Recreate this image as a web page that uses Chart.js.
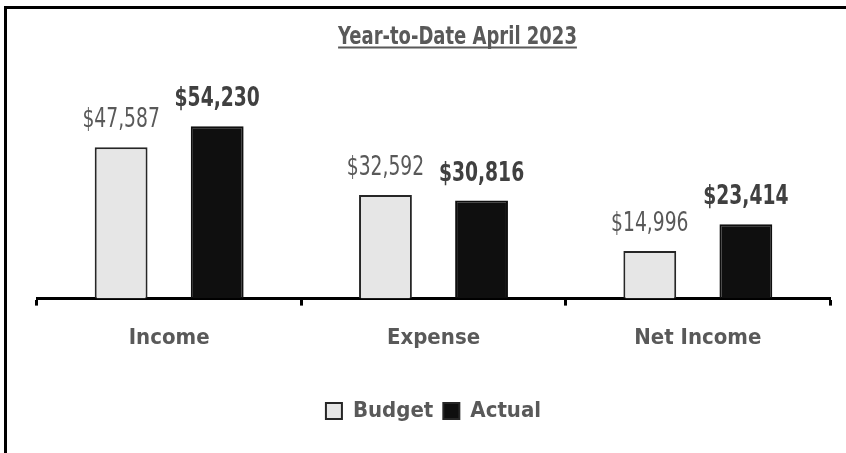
<!DOCTYPE html>
<html>
<head>
<meta charset="utf-8">
<script src="https://cdn.jsdelivr.net/npm/chart.js@4"></script>
<style>
  html, body { margin: 0; padding: 0; background: #fff; }
  #wrap { position: relative; width: 846px; height: 453px; }
</style>
</head>
<body>
<div id="wrap"><canvas id="ytdChart" width="846" height="453"></canvas></div>
<script>
// Chart data
const categories = ['Income', 'Expense', 'Net Income'];
const budgetValues = [47587, 32592, 14996];
const actualValues = [54230, 30816, 23414];
const chartTitle = 'Year-to-Date April 2023';

const FONT = '"Liberation Sans Narrow", "DejaVu Sans Condensed", "Liberation Sans", sans-serif';
const TEXT_GREY = '#595959';
const SQUEEZE = 0.8; // reference text is narrower than the fonts we have

function money(v) {
    return '$' + v.toLocaleString('en-US');
}

// draw text squeezed horizontally to look like the narrow reference font
function narrowText(ctx, text, x, y) {
    const w = ctx.measureText(text).width;
    ctx.fillText(text, x, y, w * SQUEEZE);
    return w * SQUEEZE;
}

// white background + left/top frame lines
const framePlugin = {
    id: 'frame',
    beforeDraw(chart) {
        const ctx = chart.ctx;
        ctx.save();
        ctx.fillStyle = '#fff';
        ctx.fillRect(0, 0, chart.width, chart.height);
        ctx.fillStyle = '#000';
        ctx.fillRect(4, 6, 3, chart.height - 6);
        ctx.fillRect(4, 6, chart.width - 4, 3);
        ctx.restore();
    }
};

// underlined title
const titlePlugin = {
    id: 'underlinedTitle',
    afterDraw(chart) {
        const ctx = chart.ctx;
        ctx.save();
        ctx.font = 'bold 25px ' + FONT;
        ctx.fillStyle = TEXT_GREY;
        ctx.textAlign = 'center';
        ctx.textBaseline = 'alphabetic';
        const cx = 457.5;
        const w = narrowText(ctx, chartTitle, cx, 44);
        ctx.fillRect(cx - w / 2, 46.5, w, 2);
        ctx.restore();
    }
};

// value labels above the bars
const valueLabels = {
    id: 'valueLabels',
    afterDatasetsDraw(chart) {
        const ctx = chart.ctx;
        ctx.save();
        ctx.textAlign = 'center';
        ctx.textBaseline = 'alphabetic';
        chart.data.datasets.forEach((ds, i) => {
            const meta = chart.getDatasetMeta(i);
            ctx.font = (i === 1 ? 'bold ' : '') + '26px ' + FONT;
            ctx.fillStyle = i === 1 ? '#404040' : TEXT_GREY;
            meta.data.forEach((bar, j) => {
                narrowText(ctx, money(ds.data[j]), bar.x, bar.y - 20);
            });
        });
        ctx.restore();
    }
};

const ctx = document.getElementById('ytdChart').getContext('2d');
new Chart(ctx, {
    type: 'bar',
    data: {
        labels: categories,
        datasets: [
            {
                label: 'Budget',
                data: budgetValues,
                backgroundColor: '#e6e6e6',
                borderColor: '#262626',
                borderWidth: 2,
                categoryPercentage: 0.727,
                barPercentage: 0.55
            },
            {
                label: 'Actual',
                data: actualValues,
                backgroundColor: '#0f0f0f',
                borderColor: '#0f0f0f',
                borderWidth: 2,
                categoryPercentage: 0.727,
                barPercentage: 0.55
            }
        ]
    },
    options: {
        responsive: false,
        animation: false,
        layout: {
            padding: { left: 37, right: 16, top: 76, bottom: 21 }
        },
        plugins: {
            title: { display: false },
            tooltip: { enabled: false },
            legend: {
                position: 'bottom',
                labels: {
                    boxWidth: 16,
                    boxHeight: 16,
                    padding: 10,
                    color: TEXT_GREY,
                    font: { family: FONT, size: 22, weight: 'bold' },
                    generateLabels(chart) {
                        return chart.data.datasets.map((ds, i) => ({
                            text: ds.label,
                            fillStyle: ds.backgroundColor,
                            strokeStyle: '#262626',
                            lineWidth: 2,
                            fontColor: TEXT_GREY,
                            datasetIndex: i
                        }));
                    }
                }
            }
        },
        scales: {
            x: {
                border: { display: true, color: '#000', width: 3 },
                grid: {
                    display: true,
                    drawOnChartArea: false,
                    drawTicks: true,
                    tickLength: 7,
                    tickWidth: 3,
                    tickColor: '#000'
                },
                ticks: {
                    padding: 19,
                    color: TEXT_GREY,
                    font: { family: FONT, size: 22, weight: 'bold' }
                },
                afterFit(scale) {
                    scale.height += 20;
                }
            },
            y: {
                display: false,
                min: 0,
                max: 70000
            }
        }
    },
    plugins: [framePlugin, titlePlugin, valueLabels]
});
</script>
</body>
</html>
